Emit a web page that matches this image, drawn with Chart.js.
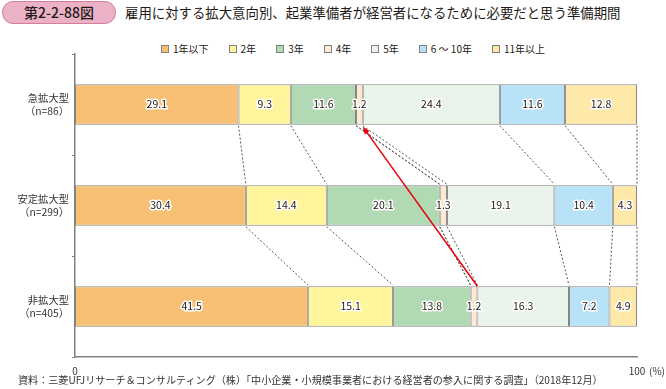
<!DOCTYPE html>
<html lang="ja">
<head>
<meta charset="utf-8">
<script src="https://cdn.jsdelivr.net/npm/chart.js@4"></script>
<style>
  body { margin: 0; background: #fff; width: 666px; height: 389px; overflow: hidden; position: relative;
         font-family: "Noto Sans CJK JP", "Noto Sans", sans-serif; color: #231815; }
  #chart { position: absolute; left: 0; top: 0; }
  .badge { position: absolute; left: 2px; top: 1px; width: 112px; height: 21px; border-radius: 11px;
           background: #ebb2c7; border: 1px solid #d77c9f; font-size: 14px; line-height: 21px; text-align: center; font-weight: 500; }
  .title { position: absolute; left: 125px; top: 3px; font-size: 13.4px; line-height: 18px; white-space: nowrap; }
  .legend { position: absolute; left: 161px; top: 43px; display: flex; gap: 20px; font-size: 10px; line-height: 12px; }
  .legend span { display: flex; align-items: center; white-space: nowrap; }
  .legend i { display: inline-block; width: 6px; height: 6px; border: 1px solid #808080; margin-right: 4px; }
  .note { position: absolute; left: 18px; top: 373px; font-size: 10.1px; line-height: 13px; white-space: nowrap; color: #333; }
</style>
</head>
<body>
<div class="badge">第2-2-88図</div>
<div class="title">雇用に対する拡大意向別、起業準備者が経営者になるために必要だと思う準備期間</div>
<div class="legend" id="legend"></div>
<canvas id="chart" width="666" height="389"></canvas>
<div class="note">資料：三菱UFJリサーチ＆コンサルティング（株）「中小企業・小規模事業者における経営者の参入に関する調査」（2018年12月）</div>
<script>
// カテゴリ（上から順）
const categories = [
    ['急拡大型', '（n=86）'],
    ['安定拡大型', '（n=299）'],
    ['非拡大型', '（n=405）']
];

// 系列名
const seriesNames = ['1年以下', '2年', '3年', '4年', '5年', '6 ～ 10年', '11年以上'];

// 系列ごとの値（%）
const dataY1  = [29.1, 30.4, 41.5];
const dataY2  = [9.3, 14.4, 15.1];
const dataY3  = [11.6, 20.1, 13.8];
const dataY4  = [1.2, 1.3, 1.2];
const dataY5  = [24.4, 19.1, 16.3];
const dataY6  = [11.6, 10.4, 7.2];
const dataY11 = [12.8, 4.3, 4.9];

const seriesData = [dataY1, dataY2, dataY3, dataY4, dataY5, dataY6, dataY11];
const seriesColors = ['#f7c074', '#fff59d', '#b1d9b4', '#fdead2', '#eaf4ea', '#b8e2f8', '#fee9a8'];

// 矢印：非拡大型の「4年」終端 → 急拡大型の「4年」終端
const arrowFrom = { row: 2, series: 3 };
const arrowTo = { row: 0, series: 3 };

// 凡例（HTML）
const legendEl = document.getElementById('legend');
seriesNames.forEach(function (name, i) {
    const item = document.createElement('span');
    item.innerHTML = '<i style="background:' + seriesColors[i] + '"></i>' + name;
    legendEl.appendChild(item);
});

function cumulative(row, upto) {
    let s = 0;
    for (let k = 0; k <= upto; k++) s += seriesData[k][row];
    return s;
}

// 区切りの点線・矢印・数値ラベル
const overlayPlugin = {
    id: 'overlay',
    afterDatasetsDraw(chart) {
        const ctx = chart.ctx;
        const x = chart.scales.x;
        const bars = chart.getDatasetMeta(0).data;

        // 点線
        ctx.save();
        ctx.strokeStyle = '#555';
        ctx.lineWidth = 1;
        ctx.setLineDash([2, 2]);
        for (let r = 0; r < categories.length - 1; r++) {
            const yTop = bars[r].y + bars[r].height / 2;
            const yBot = bars[r + 1].y - bars[r + 1].height / 2;
            for (let k = 0; k < seriesData.length; k++) {
                const x1 = x.getPixelForValue(cumulative(r, k));
                const x2 = x.getPixelForValue(cumulative(r + 1, k));
                if (k === 3) {
                    // 4年の左側も結ぶ
                    const a1 = x.getPixelForValue(cumulative(r, k - 1));
                    const a2 = x.getPixelForValue(cumulative(r + 1, k - 1));
                    ctx.beginPath(); ctx.moveTo(a1, yTop + 1); ctx.lineTo(a2, yBot - 1); ctx.stroke();
                }
                ctx.beginPath(); ctx.moveTo(x1, yTop + 1); ctx.lineTo(x2, yBot - 1); ctx.stroke();
            }
        }
        ctx.restore();

        // 数値ラベル
        ctx.save();
        ctx.font = '10.5px "Noto Sans CJK JP", "Noto Sans", sans-serif';
        ctx.textAlign = 'center';
        ctx.textBaseline = 'middle';
        ctx.lineJoin = 'round';
        chart.data.datasets.forEach(function (ds, di) {
            chart.getDatasetMeta(di).data.forEach(function (bar, i) {
                const t = ds.data[i].toFixed(1);
                const cx = (bar.x + bar.base) / 2;
                ctx.strokeStyle = '#fff';
                ctx.lineWidth = 3;
                ctx.strokeText(t, cx, bar.y);
                ctx.fillStyle = '#231815';
                ctx.fillText(t, cx, bar.y);
            });
        });
        ctx.restore();

        // 赤い矢印
        const fx = x.getPixelForValue(cumulative(arrowFrom.row, arrowFrom.series));
        const fy = bars[arrowFrom.row].y - bars[arrowFrom.row].height / 2;
        const tx = x.getPixelForValue(cumulative(arrowTo.row, arrowTo.series));
        const ty = bars[arrowTo.row].y + bars[arrowTo.row].height / 2 + 2;
        const ang = Math.atan2(ty - fy, tx - fx);
        const head = 8;
        ctx.save();
        ctx.strokeStyle = '#e60012';
        ctx.fillStyle = '#e60012';
        ctx.lineWidth = 1.5;
        ctx.beginPath();
        ctx.moveTo(fx, fy);
        ctx.lineTo(tx - Math.cos(ang) * head * 0.8, ty - Math.sin(ang) * head * 0.8);
        ctx.stroke();
        ctx.beginPath();
        ctx.moveTo(tx, ty);
        ctx.lineTo(tx - head * Math.cos(ang - 0.38), ty - head * Math.sin(ang - 0.38));
        ctx.lineTo(tx - head * Math.cos(ang + 0.38), ty - head * Math.sin(ang + 0.38));
        ctx.closePath();
        ctx.fill();
        ctx.restore();

        // (%)
        ctx.save();
        ctx.font = '10px "Noto Sans CJK JP", "Noto Sans", sans-serif';
        ctx.fillStyle = '#333';
        ctx.textBaseline = 'middle';
        ctx.fillText('(%)', x.right + 12, x.top + 14);
        ctx.restore();
    }
};

const ctx = document.getElementById('chart').getContext('2d');
new Chart(ctx, {
    type: 'bar',
    data: {
        labels: categories,
        datasets: seriesNames.map(function (name, i) {
            return {
                label: name,
                data: seriesData[i],
                backgroundColor: seriesColors[i],
                borderColor: '#858585',
                borderWidth: 1,
                borderSkipped: false,
                categoryPercentage: 1,
                barPercentage: 0.4
            };
        })
    },
    options: {
        indexAxis: 'y',
        responsive: false,
        animation: false,
        layout: { padding: { top: 54, right: 29, left: 0, bottom: 0 } },
        plugins: {
            legend: { display: false },
            tooltip: { enabled: false }
        },
        scales: {
            x: {
                stacked: true,
                min: 0,
                max: 100,
                grid: { display: false, drawTicks: false },
                border: { display: true, color: '#808080', width: 1.5 },
                ticks: {
                    stepSize: 100,
                    padding: 8,
                    color: '#333',
                    font: { family: '"Noto Sans CJK JP"', size: 10 },
                    maxRotation: 0
                },
                afterFit: function (axis) { axis.height = 32; }
            },
            y: {
                stacked: true,
                grid: { drawOnChartArea: false, tickLength: 3, color: '#808080' },
                border: { display: true, color: '#808080', width: 1.5 },
                ticks: {
                    padding: 3,
                    color: '#333',
                    font: { family: '"Noto Sans CJK JP"', size: 10.3, lineHeight: 1.2 }
                },
                afterFit: function (axis) { axis.width = 75; }
            }
        }
    },
    plugins: [overlayPlugin]
});
</script>
</body>
</html>
